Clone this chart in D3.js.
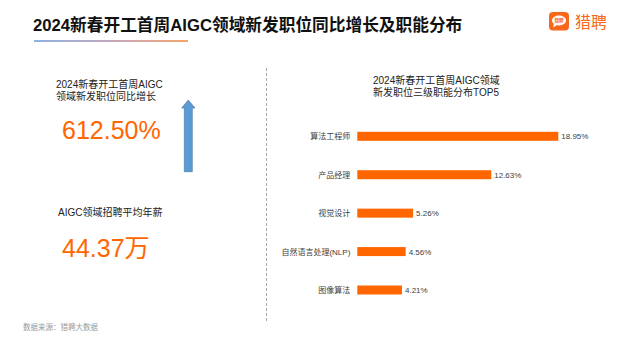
<!DOCTYPE html>
<html>
<head>
<meta charset="utf-8">
<script src="https://cdn.jsdelivr.net/npm/d3@7/dist/d3.min.js"></script>
<style>
  html, body { margin: 0; padding: 0; background: #fff; }
  svg { display: block; }
  text { font-family: "Liberation Sans", Arial, "Noto Sans CJK SC", sans-serif; }
</style>
</head>
<body>
<svg id="chart" width="628" height="346"></svg>
<script>
// Page texts
const pageTitle = "2024新春开工首周AIGC领域新发职位同比增长及职能分布";
const sourceNote = "数据来源：猎聘大数据";
const brandName = "猎聘";

// Headline figures
const growthLabel = ["2024新春开工首周AIGC", "领域新发职位同比增长"];
const growthValue = "612.50%";
const salaryLabel = "AIGC领域招聘平均年薪";
const salaryValue = "44.37万";

// Top 5 third-level job functions
const chartTitle = ["2024新春开工首周AIGC领域", "新发职位三级职能分布TOP5"];
const categories = ["算法工程师", "产品经理", "视觉设计", "自然语言处理(NLP)", "图像算法"];
const shares = [18.95, 12.63, 5.26, 4.56, 4.21];

const orange = "#FF6600";
const svg = d3.select("#chart");

// Header
svg.append("text")
  .attr("x", 33).attr("y", 30.5)
  .attr("font-size", 16.7).attr("font-weight", "bold")
  .attr("fill", "#111")
  .text(pageTitle);

const grad = svg.append("defs").append("linearGradient")
  .attr("id", "underline").attr("x1", "0%").attr("x2", "100%");
grad.append("stop").attr("offset", "0%").attr("stop-color", "#8db3e2");
grad.append("stop").attr("offset", "55%").attr("stop-color", "#c9a7b8");
grad.append("stop").attr("offset", "100%").attr("stop-color", "#f7a46c");
svg.append("rect")
  .attr("x", 34).attr("y", 40).attr("width", 154).attr("height", 2)
  .attr("fill", "url(#underline)");

// Brand mark
const logo = svg.append("g");
logo.append("rect")
  .attr("x", 549).attr("y", 12).attr("width", 20).attr("height", 18.5)
  .attr("rx", 4).attr("fill", "#F7681A");
logo.append("ellipse")
  .attr("cx", 559).attr("cy", 20.5).attr("rx", 7).attr("ry", 5)
  .attr("fill", "#fff");
logo.append("path")
  .attr("d", "M554,23.5 L553,27.5 L557.5,24.8 Z")
  .attr("fill", "#fff");
logo.append("text")
  .attr("x", 559).attr("y", 22.3).attr("text-anchor", "middle")
  .attr("font-size", 4.6).attr("font-weight", "bold").attr("fill", "#F7681A")
  .text(brandName);
logo.append("text")
  .attr("x", 575).attr("y", 27.5)
  .attr("font-size", 16).attr("fill", "#F7681A")
  .text(brandName);

// Left panel: headline figures
svg.append("g").selectAll("text").data(growthLabel).join("text")
  .attr("x", 56).attr("y", (d, i) => 87.5 + i * 12)
  .attr("font-size", 10).attr("fill", "#222")
  .text(d => d);

svg.append("text")
  .attr("x", 62).attr("y", 138.7)
  .attr("font-size", 25).attr("fill", orange)
  .text(growthValue);

// Upward arrow
svg.append("path")
  .attr("d", "M184.3,171.7 L184.3,108 L181.7,108 L188.3,100 L195,108 L192.3,108 L192.3,171.7 Z")
  .attr("fill", "#5B9BD5").attr("stroke", "#41719C").attr("stroke-width", 0.6);

svg.append("text")
  .attr("x", 58).attr("y", 215.5)
  .attr("font-size", 10).attr("fill", "#222")
  .text(salaryLabel);

svg.append("text")
  .attr("x", 62).attr("y", 256.7)
  .attr("font-size", 25).attr("fill", orange)
  .text(salaryValue);

// Divider
svg.append("line")
  .attr("x1", 266.5).attr("x2", 266.5).attr("y1", 68).attr("y2", 322)
  .attr("stroke", "#a6a6a6").attr("stroke-width", 1)
  .attr("stroke-dasharray", "3,2");

// Right panel: bar chart
svg.append("g").selectAll("text").data(chartTitle).join("text")
  .attr("x", 373).attr("y", (d, i) => 84 + i * 12)
  .attr("font-size", 10).attr("fill", "#222")
  .text(d => d);

const x = d3.scaleLinear().domain([0, d3.max(shares)]).range([357.3, 558.3]);
const y = d3.scalePoint().domain(categories).range([136.3, 290]);
const barH = 9;

const rows = svg.append("g").selectAll("g")
  .data(categories.map((c, i) => ({ cat: c, v: shares[i] })))
  .join("g");

rows.append("rect")
  .attr("x", x(0))
  .attr("y", d => y(d.cat) - barH / 2)
  .attr("width", d => x(d.v) - x(0))
  .attr("height", barH)
  .attr("fill", orange);

rows.append("text")
  .attr("x", x(0) - 7)
  .attr("y", d => y(d.cat) + 3)
  .attr("text-anchor", "end")
  .attr("font-size", 8).attr("fill", "#404040")
  .text(d => d.cat);

rows.append("text")
  .attr("x", d => x(d.v) + 3)
  .attr("y", d => y(d.cat) + 3)
  .attr("font-size", 8).attr("fill", "#404040")
  .text(d => d.v.toFixed(2) + "%");

// Footer
svg.append("text")
  .attr("x", 23).attr("y", 329.5)
  .attr("font-size", 7.5).attr("fill", "#9a9a9a")
  .text(sourceNote);
</script>
</body>
</html>
